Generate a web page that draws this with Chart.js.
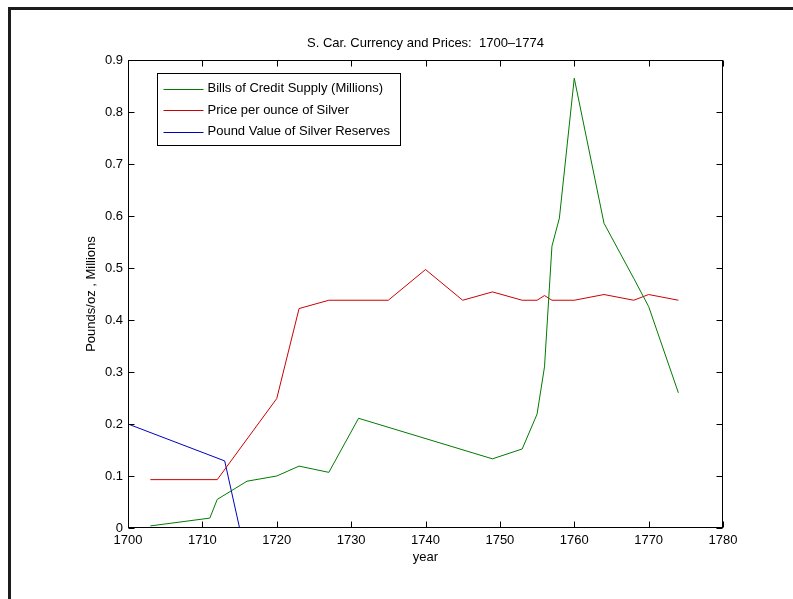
<!DOCTYPE html>
<html>
<head>
<meta charset="utf-8">
<script src="https://cdn.jsdelivr.net/npm/chart.js@4/dist/chart.umd.min.js"></script>
<style>
    body { margin: 0; background: #fff; }
    #wrap { position: relative; width: 793px; height: 599px; overflow: hidden; }
    #frame {
        position: absolute; left: 8px; top: 7px; right: 0; bottom: 0;
        border-top: 3px solid #1c1c1c; border-left: 3px solid #1c1c1c;
        pointer-events: none;
    }
</style>
</head>
<body>
<div id="wrap">
    <canvas id="currencyChart" width="793" height="599"></canvas>
    <div id="frame"></div>
</div>
<script>
// Bills of credit supply (millions)
const billsYears = [1703, 1711, 1712, 1716, 1720, 1723, 1727, 1731, 1749, 1753, 1755, 1756, 1757, 1758, 1760, 1764, 1768, 1770, 1774];
const billsValues = [0.004, 0.019, 0.055, 0.090, 0.100, 0.119, 0.107, 0.211, 0.133, 0.152, 0.219, 0.310, 0.542, 0.596, 0.865, 0.586, 0.480, 0.426, 0.260];

// Price per ounce of silver
const silverYears = [1703, 1712, 1720, 1723, 1727, 1735, 1740, 1745, 1749, 1753, 1755, 1756, 1757, 1760, 1764, 1768, 1770, 1774];
const silverValues = [0.093, 0.093, 0.249, 0.422, 0.438, 0.438, 0.497, 0.438, 0.454, 0.438, 0.438, 0.447, 0.438, 0.438, 0.449, 0.438, 0.449, 0.438];

// Pound value of silver reserves
const reserveYears = [1700, 1713, 1715];
const reserveValues = [0.200, 0.129, 0];

const seriesLabels = ["Bills of Credit Supply (Millions)", "Price per ounce of Silver", "Pound Value of Silver Reserves"];
const seriesColors = ["#007a00", "#cc0000", "#0000c0"];

const FONT = "'Liberation Sans', Arial, Helvetica, sans-serif";

function toPoints(xs, ys) {
    return xs.map((x, i) => ({ x: x, y: ys[i] }));
}

// MATLAB style box, inward ticks and legend
const matlabAxes = {
    id: "matlabAxes",
    afterDatasetsDraw(chart) {
        const { ctx, chartArea: a, scales } = chart;
        const x = scales.x, y = scales.y;
        const L = Math.round(a.left) + 0.5, R = Math.round(a.right) - 0.5;
        const T = Math.round(a.top) + 0.5, B = Math.round(a.bottom) - 0.5;
        ctx.save();
        ctx.strokeStyle = "#000";
        ctx.lineWidth = 1;
        ctx.beginPath();
        x.ticks.forEach((t) => {
            const px = Math.round(x.getPixelForValue(t.value)) + 0.5;
            ctx.moveTo(px, B); ctx.lineTo(px, B - 6);
            ctx.moveTo(px, T); ctx.lineTo(px, T + 6);
        });
        y.ticks.forEach((t) => {
            const py = Math.round(y.getPixelForValue(t.value)) + 0.5;
            ctx.moveTo(L, py); ctx.lineTo(L + 6, py);
            ctx.moveTo(R, py); ctx.lineTo(R - 6, py);
        });
        ctx.stroke();
        ctx.strokeRect(L, T, R - L, B - T);

        // legend
        ctx.font = "13px " + FONT;
        const widest = Math.max(...seriesLabels.map((s) => ctx.measureText(s).width));
        const bx = Math.round(a.left) + 29.5, by = Math.round(a.top) + 13.5;
        const bw = Math.round(widest + 60), bh = 72;
        ctx.fillStyle = "#fff";
        ctx.fillRect(bx, by, bw, bh);
        ctx.strokeRect(bx, by, bw, bh);
        ctx.textBaseline = "middle";
        seriesLabels.forEach((label, i) => {
            const ly = by + 15 + i * 21.5;
            ctx.strokeStyle = seriesColors[i];
            ctx.beginPath();
            ctx.moveTo(bx + 6, Math.round(ly) + 0.5);
            ctx.lineTo(bx + 46, Math.round(ly) + 0.5);
            ctx.stroke();
            ctx.fillStyle = "#000";
            ctx.fillText(label, bx + 50, ly);
        });
        ctx.restore();
    }
};

const ctx = document.getElementById("currencyChart").getContext("2d");

const currencyChart = new Chart(ctx, {
    type: "line",
    data: {
        datasets: [
            { label: seriesLabels[0], data: toPoints(billsYears, billsValues), borderColor: seriesColors[0] },
            { label: seriesLabels[1], data: toPoints(silverYears, silverValues), borderColor: seriesColors[1] },
            { label: seriesLabels[2], data: toPoints(reserveYears, reserveValues), borderColor: seriesColors[2] },
        ],
    },
    options: {
        responsive: false,
        animation: false,
        devicePixelRatio: 1,
        layout: { padding: { left: 0, right: 70, top: 0, bottom: 31 } },
        elements: {
            line: { borderWidth: 1, tension: 0, fill: false },
            point: { radius: 0, hoverRadius: 0 },
        },
        plugins: {
            legend: { display: false },
            tooltip: { enabled: false },
            title: {
                display: true,
                fullSize: false,
                text: "S. Car. Currency and Prices:  1700\u20131774",
                color: "#000",
                font: { family: FONT, size: 13, weight: "normal" },
                padding: { top: 36, bottom: 8.4 },
            },
        },
        scales: {
            x: {
                type: "linear",
                min: 1700,
                max: 1780,
                grid: { display: false, drawTicks: false },
                border: { display: false },
                ticks: {
                    stepSize: 10,
                    padding: 5,
                    color: "#000",
                    maxRotation: 0,
                    font: { family: FONT, size: 13 },
                    callback: (v) => String(v),
                },
                title: {
                    display: true,
                    text: "year",
                    color: "#000",
                    font: { family: FONT, size: 13 },
                    padding: { top: 0, bottom: 3 },
                },
                afterFit(scale) { scale.height = 40; },
            },
            y: {
                min: 0,
                max: 0.9,
                grid: { display: false, drawTicks: false },
                border: { display: false },
                ticks: {
                    stepSize: 0.1,
                    padding: 5,
                    color: "#000",
                    font: { family: FONT, size: 13 },
                    callback: (v) => (v === 0 ? "0" : v.toFixed(1)),
                },
                title: {
                    display: true,
                    text: "Pounds/oz , Millions",
                    color: "#000",
                    font: { family: FONT, size: 13 },
                    padding: { top: 84, bottom: 0 },
                },
                afterFit(scale) { scale.width = 128; },
            },
        },
    },
    plugins: [matlabAxes],
});
</script>
</body>
</html>
